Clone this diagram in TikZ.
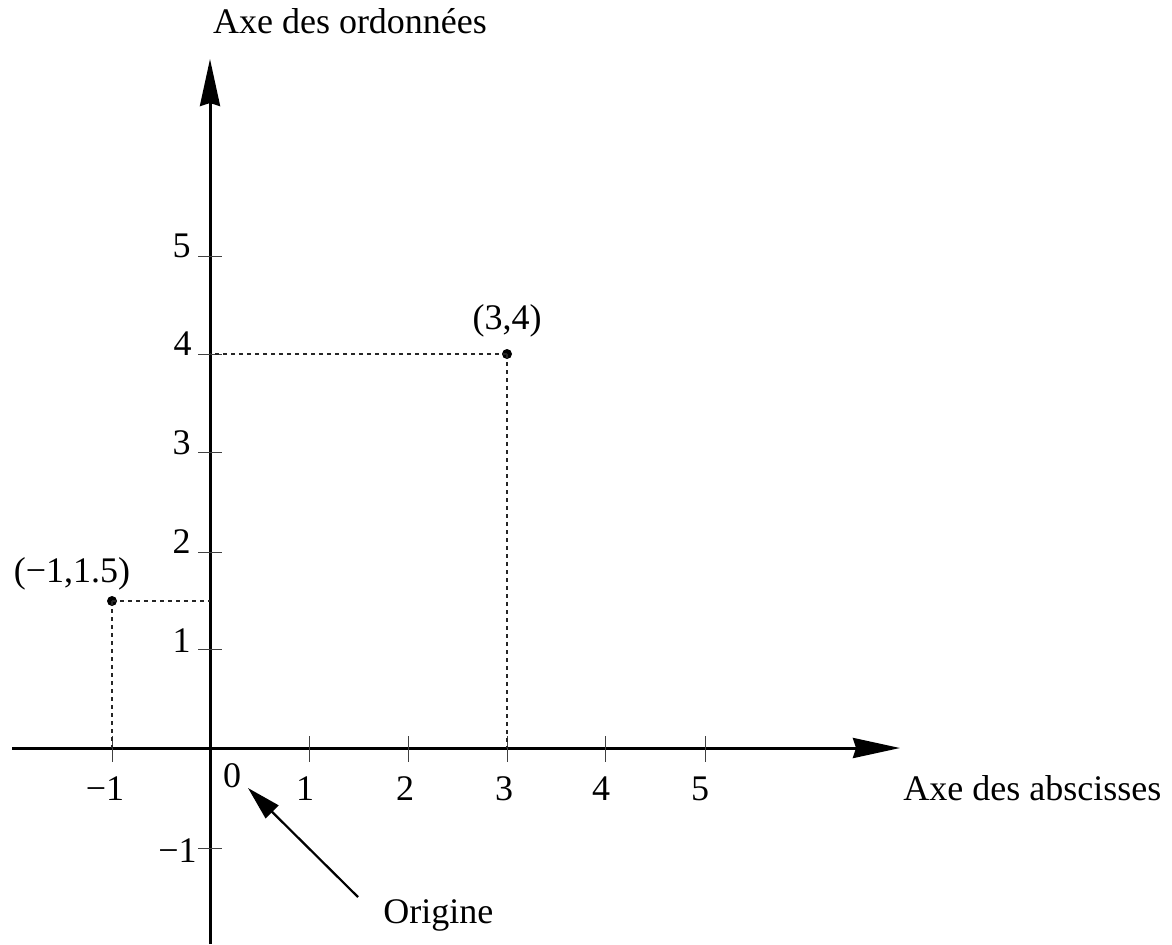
\documentclass[tikz,border=0pt]{standalone}
\usepackage{fontspec}
\setmainfont{Liberation Serif}
\usetikzlibrary{arrows.meta}
\begin{document}
\begin{tikzpicture}[x=0.5pt,y=-0.5pt,
  lbl/.style={font=\fontsize{18}{20}\selectfont, inner sep=0pt},
  axisline/.style={line width=1.5pt, -{Stealth[length=23.5pt,width=10pt,inset=1.5pt]}},
  tickmark/.style={line width=0.5pt, draw=black!75},
  guide/.style={dash pattern=on 2pt off 2pt, line width=0.6pt, draw=black!85},
  dotpt/.style={circle, fill, inner sep=0pt, minimum size=5pt},
  pointer/.style={line width=1.1pt, -{Stealth[length=17pt,width=9pt,inset=0pt]}}]
\useasboundingbox (0,0) rectangle (1172,944);
% axes
\coordinate (xs) at (12,748);
\coordinate (xe) at (900,748);
\coordinate (ys) at (210,944);
\coordinate (ye) at (210,59);
\draw[axisline] (xs) -- (xe);
\draw[axisline] (ys) -- (ye);
% x ticks
\foreach \x/\n in {112/m1,309/a,408/b,507/c,605/d,705/e}{
  \coordinate (xt\n u) at (\x,736);
  \coordinate (xt\n d) at (\x,762);
  \draw[tickmark] (xt\n u) -- (xt\n d);
}
% y ticks
\foreach \y/\n in {256/e,354/d,452/c,552/b,649/a,848/m1}{
  \coordinate (yt\n l) at (198,\y);
  \coordinate (yt\n r) at (222,\y);
  \draw[tickmark] (yt\n l) -- (yt\n r);
}
% x labels
\node[lbl, anchor=base] (lxm1) at (105,800) {−1};
\node[lbl, anchor=base] (lx0) at (232,787) {0};
\node[lbl, anchor=base] (lx1) at (305,800) {1};
\node[lbl, anchor=base] (lx2) at (405,800) {2};
\node[lbl, anchor=base] (lx3) at (504,800) {3};
\node[lbl, anchor=base] (lx4) at (601,800) {4};
\node[lbl, anchor=base] (lx5) at (700,800) {5};
% y labels
\node[lbl, anchor=base east] (ly5) at (191,257) {5};
\node[lbl, anchor=base east] (ly4) at (192,355) {4};
\node[lbl, anchor=base east] (ly3) at (191,454) {3};
\node[lbl, anchor=base east] (ly2) at (191,553) {2};
\node[lbl, anchor=base east] (ly1) at (191,652) {1};
\node[lbl, anchor=base east] (lym1) at (197,862) {−1};
% axis titles
\node[lbl, anchor=base] (ordo) at (350,33) {Axe des ordonnées};
\node[lbl, anchor=base west] (absc) at (903,800) {Axe des abscisses};
\node[lbl, anchor=base west] (orig) at (383,923) {Origine};
% points
\node[dotpt] (p1) at (112,601) {};
\node[dotpt] (p2) at (507,354) {};
\node[lbl, anchor=base] (lp1) at (72,582) {(−1,1.5)};
\node[lbl, anchor=base] (lp2) at (507,329) {(3,4)};
\coordinate (p1y) at (210,601);
\coordinate (p1x) at (112,748);
\coordinate (p2y) at (210,354);
\coordinate (p2x) at (507,748);
\draw[guide] (p1.center) -- (p1y);
\draw[guide] (p1.center) -- (p1x);
\draw[guide] (p2.center) -- (p2y);
\draw[guide] (p2.center) -- (p2x);
% origin pointer
\coordinate (otail) at (358,897);
\coordinate (otip) at (248,788);
\draw[pointer] (otail) -- (otip);
\end{tikzpicture}
\end{document}
